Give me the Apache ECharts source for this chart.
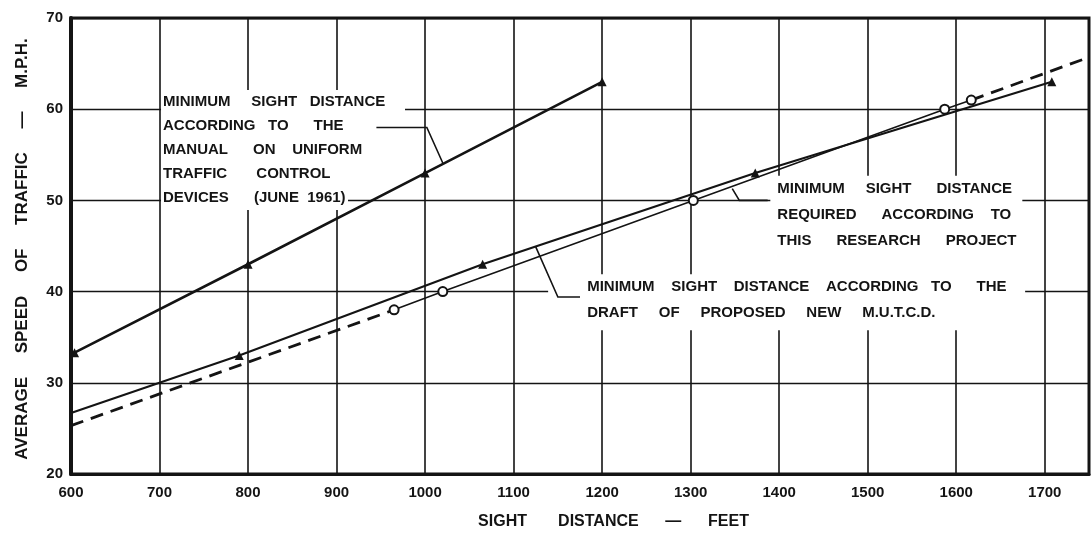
<!DOCTYPE html>
<html>
<head>
<meta charset="utf-8">
<title>Average speed of traffic vs sight distance</title>
<script src="https://cdn.jsdelivr.net/npm/echarts@6/dist/echarts.min.js"></script>
<style>
  html, body { margin: 0; padding: 0; background: #ffffff; }
  #chart { width: 1091px; height: 535px; }
</style>
</head>
<body>
<div id="chart"></div>
<script>
// Axis ticks
const distanceTicks = [600, 700, 800, 900, 1000, 1100, 1200, 1300, 1400, 1500, 1600, 1700];
const speedTicks = [20, 30, 40, 50, 60, 70];

// Manual on Uniform Traffic Control Devices (June 1961)
const mutcdDistance = [604, 800, 1000, 1200];
const mutcdSpeed = [33.3, 43, 53, 63];

// Draft of proposed new M.U.T.C.D. (line runs in from the speed axis)
const draftStart = [600, 26.7];
const draftDistance = [790, 1065, 1373, 1708];
const draftSpeed = [33, 43, 53, 63];

// This research project: measured points and dashed extensions
const researchDistance = [965, 1020, 1303, 1587, 1617];
const researchSpeed = [38, 40, 50, 60, 61];
const researchLow = [[600, 25.3], [965, 38]];
const researchHigh = [[1617, 61], [1750, 65.7]];

// Label texts (word gaps widened as lettered on the sheet)
const noteMutcd = [
  'MINIMUM     SIGHT   DISTANCE',
  'ACCORDING   TO      THE',
  'MANUAL      ON    UNIFORM',
  'TRAFFIC       CONTROL',
  'DEVICES      (JUNE  1961)'
];
const noteResearch = [
  'MINIMUM     SIGHT      DISTANCE',
  'REQUIRED      ACCORDING    TO',
  'THIS      RESEARCH      PROJECT'
];
const noteDraft = [
  'MINIMUM    SIGHT    DISTANCE    ACCORDING   TO      THE',
  'DRAFT     OF     PROPOSED     NEW     M.U.T.C.D.'
];

// Leader lines from the labels to the curves (distance, speed)
const leaderMutcd = [[945, 58], [1002, 58], [1020, 54.1]];
const leaderResearch = [[1387, 50.0], [1355, 50.0], [1347, 51.3]];
const leaderDraft = [[1175, 39.4], [1150, 39.4], [1125, 44.9]];

const INK = '#141414';
const FONT = '"Liberation Sans", Arial, sans-serif';
const NOTE_TEXT = { fontFamily: FONT, fontSize: 15, fontWeight: 'bold', color: INK };

const pairs = (xs, ys) => xs.map((x, i) => [x, ys[i]]);

// stepped white backing: each row carries its own background width
function steppedLabel(lines, widths, padLeft, lineH) {
  const rich = {};
  lines.forEach((t, i) => {
    rich['r' + i] = Object.assign({
      backgroundColor: '#ffffff',
      width: widths[i] - padLeft,
      height: lineH,
      lineHeight: lineH,
      padding: [0, 0, 0, padLeft]
    }, NOTE_TEXT);
  });
  return {
    show: true,
    position: [0, 0],
    align: 'left',
    verticalAlign: 'top',
    opacity: 1,
    formatter: () => lines.map((t, i) => '{r' + i + '|' + t + '}').join('\n'),
    rich: rich
  };
}

// rectangular white backing behind a block of rows
function boxLabel(lines, boxWidth, padding, lineH) {
  return Object.assign({
    show: true,
    position: [0, 0],
    align: 'left',
    verticalAlign: 'top',
    opacity: 1,
    backgroundColor: '#ffffff',
    padding: padding,
    width: boxWidth - padding[1] - padding[3],
    lineHeight: lineH,
    overflow: 'none',
    formatter: () => lines.join('\n')
  }, NOTE_TEXT);
}

function noteSeries(anchor, label) {
  return {
    type: 'scatter',
    z: 3,
    silent: true,
    symbolSize: 0,
    itemStyle: { color: 'transparent', opacity: 1 },
    emphasis: { disabled: true },
    data: [anchor],
    label: label
  };
}

function leaderSeries(coords) {
  return {
    type: 'lines',
    coordinateSystem: 'cartesian2d',
    polyline: true,
    z: 4,
    silent: true,
    symbol: ['none', 'arrow'],
    symbolSize: 7,
    lineStyle: { color: INK, width: 1.6, opacity: 1 },
    data: [{ coords: coords }]
  };
}

const chart = echarts.init(document.getElementById('chart'), null, { renderer: 'canvas' });

chart.setOption({
  backgroundColor: '#ffffff',
  animation: false,
  grid: {
    left: 71, right: 2, top: 18, bottom: 61,
    show: true, borderColor: INK, borderWidth: 3, backgroundColor: 'transparent'
  },
  xAxis: {
    type: 'value',
    min: 600, max: 1750, interval: 100,
    name: 'SIGHT       DISTANCE      —      FEET',
    nameLocation: 'middle',
    nameGap: 40,
    nameTextStyle: { fontFamily: FONT, fontSize: 16, fontWeight: 'bold', color: INK, padding: [0, 0, 0, 67] },
    axisLine: { show: true, lineStyle: { color: INK, width: 3 } },
    axisTick: { show: false },
    axisLabel: {
      margin: 11, fontFamily: FONT, fontSize: 15, fontWeight: 'bold', color: INK,
      showMaxLabel: false,
      formatter: v => (distanceTicks.indexOf(v) >= 0 ? String(v) : '')
    },
    splitLine: { show: true, lineStyle: { color: INK, width: 1.6 } }
  },
  yAxis: {
    type: 'value',
    min: 20, max: 70, interval: 10,
    name: 'AVERAGE     SPEED     OF     TRAFFIC     —     M.P.H.',
    nameLocation: 'middle',
    nameGap: 40,
    nameTextStyle: { fontFamily: FONT, fontSize: 17, fontWeight: 'bold', color: INK, padding: [0, 6, 0, 0] },
    axisLine: { show: true, lineStyle: { color: INK, width: 4 } },
    axisTick: { show: false },
    axisLabel: {
      margin: 8, fontFamily: FONT, fontSize: 15, fontWeight: 'bold', color: INK,
      formatter: v => (speedTicks.indexOf(v) >= 0 ? String(v) : '')
    },
    splitLine: { show: true, lineStyle: { color: INK, width: 1.3 } }
  },
  series: [
    noteSeries([701.7, 62.1], steppedLabel(noteMutcd, [244, 244, 244, 224, 187], 2, 24)),
    noteSeries([1390, 52.7], boxLabel(noteResearch, 252, [0, 6, 25, 7], 26)),
    noteSeries([1139, 41.9], boxLabel(noteDraft, 477, [0, 6, 4, 39], 26)),

    leaderSeries(leaderMutcd),
    leaderSeries(leaderResearch),
    leaderSeries(leaderDraft),

    {
      name: 'M.U.T.C.D. June 1961',
      type: 'line', z: 5,
      data: pairs(mutcdDistance, mutcdSpeed),
      symbol: 'triangle', symbolSize: 9, showAllSymbol: true,
      itemStyle: { color: INK },
      lineStyle: { color: INK, width: 2.6 }
    },
    {
      name: 'Draft of proposed new M.U.T.C.D.',
      type: 'line', z: 5,
      data: [{ value: draftStart, symbol: 'none' }].concat(pairs(draftDistance, draftSpeed)),
      symbol: 'triangle', symbolSize: 9, showAllSymbol: true,
      itemStyle: { color: INK },
      lineStyle: { color: INK, width: 2.1 }
    },
    {
      name: 'This research project',
      type: 'line', z: 6,
      data: pairs(researchDistance, researchSpeed),
      symbol: 'emptyCircle', symbolSize: 9, showAllSymbol: true,
      itemStyle: { color: INK, borderColor: INK, borderWidth: 1.5 },
      lineStyle: { color: INK, width: 1.6 }
    },
    {
      name: 'This research project (extended)',
      type: 'line', z: 5,
      data: researchLow,
      symbol: 'none',
      lineStyle: { color: INK, width: 2.8, type: [13, 8] }
    },
    {
      name: 'This research project (extended, upper)',
      type: 'line', z: 5,
      data: researchHigh,
      symbol: 'none',
      lineStyle: { color: INK, width: 2.8, type: [13, 8] }
    }
  ]
});
</script>
</body>
</html>
